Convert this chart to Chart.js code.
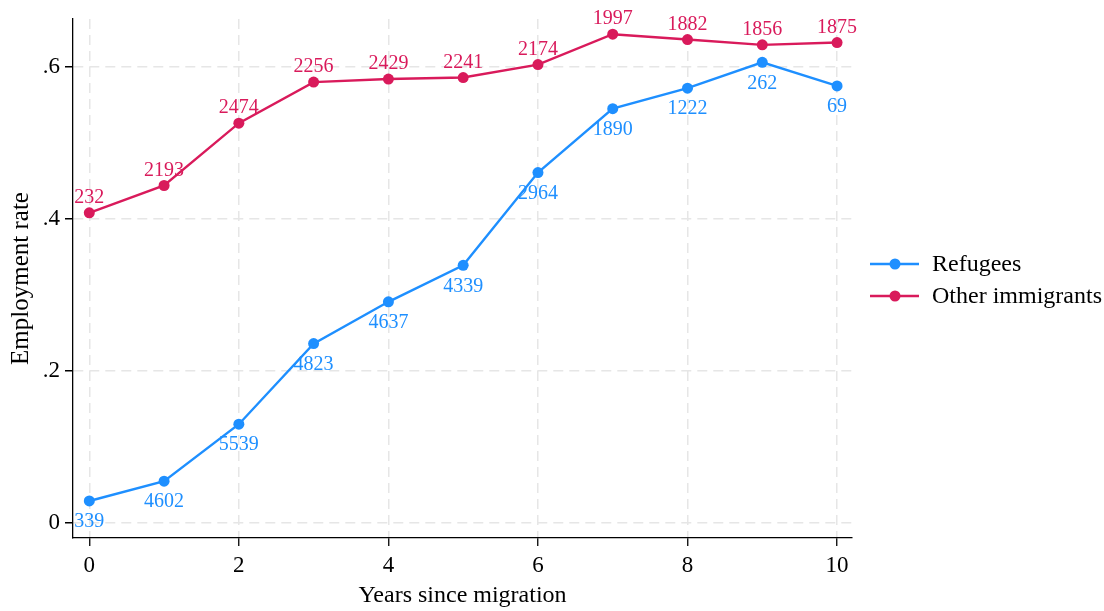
<!DOCTYPE html>
<html>
<head>
<meta charset="utf-8">
<script src="https://cdn.jsdelivr.net/npm/chart.js@4"></script>
<style>
    html, body { margin: 0; padding: 0; background: #fff; }
    #wrap { width: 1104px; height: 611px; }
</style>
</head>
<body>
<div id="wrap"><canvas id="chart"></canvas></div>
<script>
const years = [0, 1, 2, 3, 4, 5, 6, 7, 8, 9, 10];
const refugees = [0.029, 0.055, 0.130, 0.236, 0.291, 0.339, 0.461, 0.545, 0.572, 0.606, 0.575];
const others = [0.408, 0.444, 0.526, 0.580, 0.584, 0.586, 0.603, 0.643, 0.636, 0.629, 0.632];
const refugeeCounts = ['339', '4602', '5539', '4823', '4637', '4339', '2964', '1890', '1222', '262', '69'];
const otherCounts = ['232', '2193', '2474', '2256', '2429', '2241', '2174', '1997', '1882', '1856', '1875'];
const xTicks = [0, 2, 4, 6, 8, 10];
const yTicks = [0, 0.2, 0.4, 0.6];

const BLUE = '#1e8fff';
const PINK = '#d91a5b';
const SERIF = '"Liberation Serif", "DejaVu Serif", serif';

Chart.defaults.font.family = SERIF;
Chart.defaults.color = '#000';

// counts written next to each point (refugees below, others above)
const countLabels = {
    id: 'countLabels',
    afterDatasetsDraw(chart) {
        const ctx = chart.ctx;
        ctx.save();
        ctx.font = '20px ' + SERIF;
        ctx.textAlign = 'center';
        ctx.textBaseline = 'middle';
        const sets = [[0, refugeeCounts, 21], [1, otherCounts, -15]];
        sets.forEach(([i, labels, dy]) => {
            const meta = chart.getDatasetMeta(i);
            ctx.fillStyle = chart.data.datasets[i].borderColor;
            meta.data.forEach((pt, j) => ctx.fillText(labels[j], pt.x, pt.y + dy));
        });
        ctx.restore();
    }
};

// legend to the right: line + marker + text
const sideLegend = {
    id: 'sideLegend',
    afterDraw(chart) {
        const ctx = chart.ctx;
        ctx.save();
        chart.data.datasets.forEach((ds, i) => {
            const y = 264 + i * 32;
            ctx.strokeStyle = ds.borderColor;
            ctx.lineWidth = 2.4;
            ctx.beginPath();
            ctx.moveTo(870, y);
            ctx.lineTo(919, y);
            ctx.stroke();
            ctx.fillStyle = ds.borderColor;
            ctx.beginPath();
            ctx.arc(895, y, 5.5, 0, Math.PI * 2);
            ctx.fill();
            ctx.fillStyle = '#000';
            ctx.font = '24px ' + SERIF;
            ctx.textBaseline = 'middle';
            ctx.fillText(ds.label, 932, y + 1);
        });
        ctx.restore();
    }
};

const gridStyle = { color: '#e6e6e6', lineWidth: 1.5, tickColor: '#000', tickLength: 8, tickWidth: 1.3, tickBorderDash: [1, 0] };

new Chart(document.getElementById('chart'), {
    type: 'line',
    data: {
        datasets: [
            {
                label: 'Refugees',
                data: years.map((x, i) => ({ x, y: refugees[i] })),
                borderColor: BLUE,
                backgroundColor: BLUE,
                borderWidth: 2.4,
                pointRadius: 5.5,
                pointBorderWidth: 0,
                tension: 0
            },
            {
                label: 'Other immigrants',
                data: years.map((x, i) => ({ x, y: others[i] })),
                borderColor: PINK,
                backgroundColor: PINK,
                borderWidth: 2.4,
                pointRadius: 5.5,
                pointBorderWidth: 0,
                tension: 0
            }
        ]
    },
    options: {
        responsive: true,
        maintainAspectRatio: false,
        animation: false,
        layout: { padding: { left: 0, top: 19, right: 252, bottom: 0 } },
        plugins: { legend: { display: false }, tooltip: { enabled: false } },
        scales: {
            x: {
                type: 'linear',
                min: -0.218,
                max: 10.2,
                afterBuildTicks: s => { s.ticks = xTicks.map(v => ({ value: v })); },
                afterFit: s => { s.height = 73; },
                grid: gridStyle,
                border: { display: true, color: '#000', width: 1.3, dash: [10, 6] },
                ticks: { font: { size: 23 }, padding: 6, maxRotation: 0 },
                title: { display: true, text: 'Years since migration', font: { size: 24 }, padding: { top: 0, bottom: 1 } }
            },
            y: {
                type: 'linear',
                min: -0.0197,
                max: 0.663,
                afterBuildTicks: s => { s.ticks = yTicks.map(v => ({ value: v })); },
                afterFit: s => { s.width = 73; },
                grid: gridStyle,
                border: { display: true, color: '#000', width: 1.3, dash: [10, 6] },
                ticks: {
                    font: { size: 23 },
                    padding: 5,
                    callback: v => v === 0 ? '0' : String(+v.toFixed(1)).replace(/^0/, '')
                },
                title: { display: true, text: 'Employment rate', font: { size: 25 }, padding: { top: 6, bottom: 0 } }
            }
        }
    },
    plugins: [countLabels, sideLegend]
});
</script>
</body>
</html>
